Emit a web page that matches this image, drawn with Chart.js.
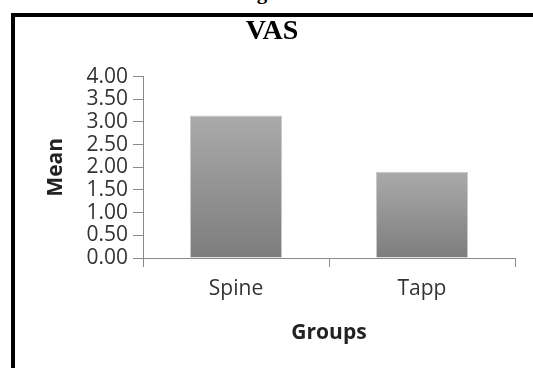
<!DOCTYPE html>
<html>
<head>
<meta charset="utf-8">
<script src="https://cdn.jsdelivr.net/npm/chart.js@4.4.1/dist/chart.umd.min.js"></script>
<style>
  html, body { margin: 0; padding: 0; background: #fff; overflow: hidden; }
  #wrap { position: relative; width: 533px; height: 368px; }
  #caption {
    position: absolute; top: -18px; left: 0; width: 348px; text-align: right;
    white-space: nowrap; font: bold 21px "Liberation Serif", serif; color: #000; line-height: 20px;
    letter-spacing: 0.6px;
  }
  #frame {
    position: absolute; left: 11px; top: 13px; right: -10px; bottom: -10px;
    border-top: 4px solid #000; border-left: 4px solid #000;
  }
  #chart { position: absolute; left: 0; top: 0; }
</style>
</head>
<body>
<div id="wrap">
  <div id="caption">based on visual analogue scale.</div>
  <div id="frame"></div>
  <canvas id="chart" width="533" height="368"></canvas>
</div>
<script>
// Mean VAS score per surgical group
const groups = ['Spine', 'Tapp'];
const meanVAS = [3.14, 1.90];
const yTicks = [0, 0.5, 1, 1.5, 2, 2.5, 3, 3.5, 4];

const axisGray = '#8a8a8a';
const textGray = '#333333';
const sans = '"Open Sans", "Noto Sans", sans-serif';

// vertical gray fade for each bar, lighter at its top
function barFill(ctx) {
  const chart = ctx.chart;
  const area = chart.chartArea;
  if (!area || ctx.parsed === undefined) return '#959595';
  const y = chart.scales.y;
  const top = y.getPixelForValue(ctx.parsed.y);
  const bottom = y.getPixelForValue(0);
  const g = chart.ctx.createLinearGradient(0, top, 0, bottom);
  g.addColorStop(0, '#aaaaaa');
  g.addColorStop(1, '#7d7d7d');
  return g;
}

new Chart(document.getElementById('chart'), {
  type: 'bar',
  data: {
    labels: groups,
    datasets: [{
      data: meanVAS,
      backgroundColor: barFill,
      borderColor: '#c9c9c9',
      borderWidth: 1,
      borderSkipped: 'bottom',
      barPercentage: 0.5,
      categoryPercentage: 0.99
    }]
  },
  options: {
    responsive: false,
    animation: false,
    layout: { padding: { left: 29, right: 18, top: 15, bottom: 22 } },
    plugins: {
      legend: { display: false },
      tooltip: { enabled: false },
      title: {
        display: true,
        text: 'VAS',
        color: '#000',
        font: { family: '"Liberation Serif", serif', size: 28, weight: 'bold', lineHeight: 1.2 },
        padding: { top: 0, bottom: 28 }
      }
    },
    scales: {
      x: {
        afterFit: s => { s.height = 88; },
        grid: { display: true, drawOnChartArea: false, offset: true, tickLength: 9, color: axisGray, lineWidth: 1 },
        border: { display: true, color: axisGray, width: 1 },
        ticks: { color: textGray, padding: 9, font: { family: sans, size: 21, lineHeight: 1.2 } },
        title: {
          display: true, text: 'Groups', color: '#222',
          font: { family: sans, size: 21, weight: 'bold', lineHeight: 1.2 },
          padding: { top: 0, bottom: 0 }
        }
      },
      y: {
        min: 0,
        max: 4,
        afterFit: s => { s.width = 143 - 29; },
        afterBuildTicks: s => { s.ticks = yTicks.map(v => ({ value: v })); },
        grid: { display: true, drawOnChartArea: false, tickLength: 10, color: axisGray, lineWidth: 1 },
        border: { display: true, color: axisGray, width: 1 },
        ticks: {
          color: textGray, padding: 5, autoSkip: false,
          font: { family: sans, size: 21, lineHeight: 1.0 },
          callback: v => Number(v).toFixed(2)
        },
        title: {
          display: true, text: 'Mean', color: '#222',
          font: { family: sans, size: 21, weight: 'bold', lineHeight: 1.2 },
          padding: { top: 14.4, bottom: 0 }
        }
      }
    }
  }
});
</script>
</body>
</html>
